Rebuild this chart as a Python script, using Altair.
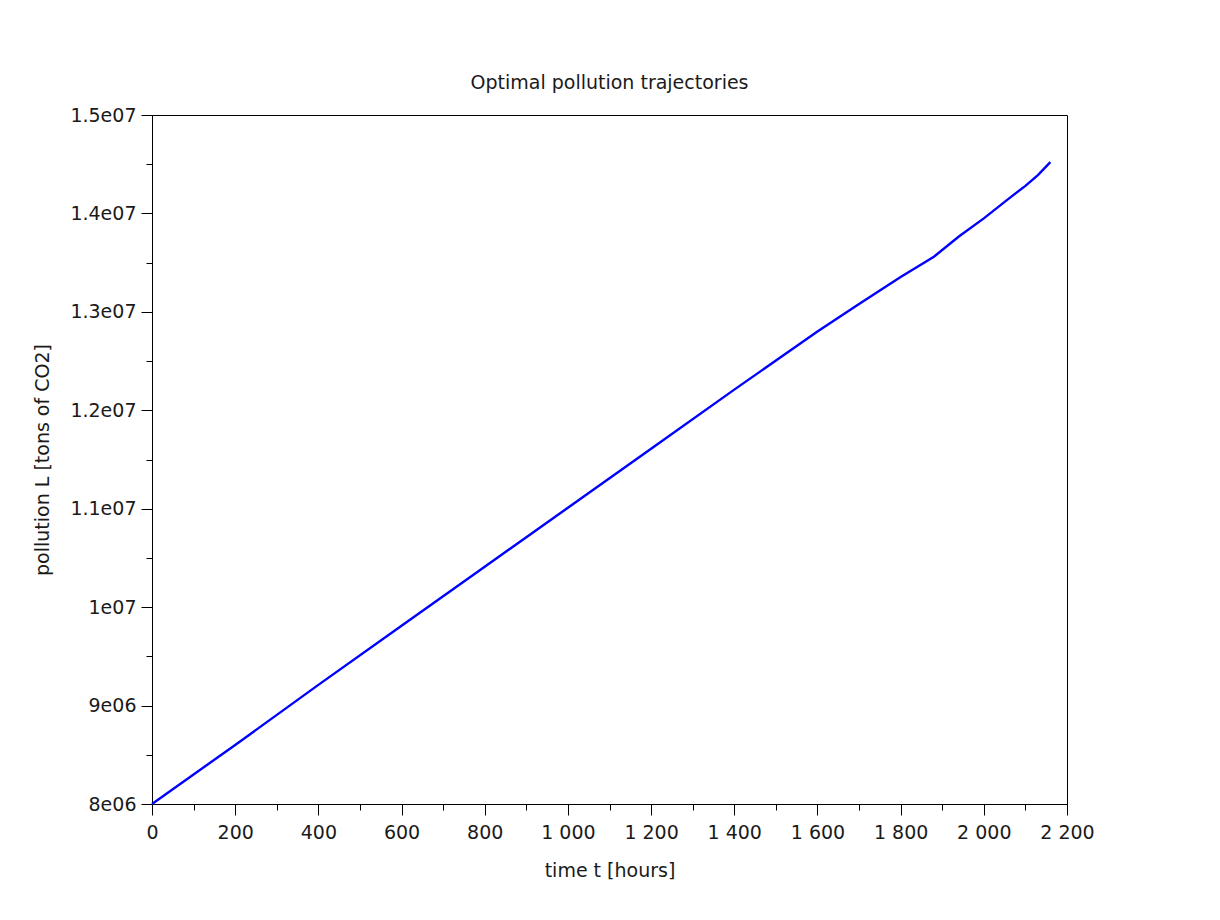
import altair as alt
import pandas as pd

# data
t_hours = [0, 200, 400, 600, 800, 1000, 1200, 1400, 1600, 1700, 1800, 1880,
           1940, 2000, 2060, 2100, 2130, 2160]
pollution = [8.0e6, 8.60e6, 9.21e6, 9.81e6, 1.041e7, 1.101e7, 1.161e7, 1.221e7,
             1.280e7, 1.308e7, 1.3354e7, 1.356e7, 1.3765e7, 1.395e7, 1.415e7,
             1.428e7, 1.439e7, 1.4522e7]

x_major = [0, 200, 400, 600, 800, 1000, 1200, 1400, 1600, 1800, 2000, 2200]
x_minor = [100, 300, 500, 700, 900, 1100, 1300, 1500, 1700, 1900, 2100]
y_major = [8e6, 9e6, 1e7, 1.1e7, 1.2e7, 1.3e7, 1.4e7, 1.5e7]
y_minor = [8.5e6, 9.5e6, 1.05e7, 1.15e7, 1.25e7, 1.35e7, 1.45e7]

df = pd.DataFrame({"t": t_hours, "L": pollution})

FONT = "DejaVu Sans"
TXT = "#1a1a1a"

xscale = alt.Scale(domain=[0, 2200], nice=False, zero=False)
yscale = alt.Scale(domain=[8e6, 1.5e7], nice=False, zero=False)

x_lab = "replace(format(datum.value, ','), ',', ' ')"
y_lab = ("datum.value >= 9999999 ? format(datum.value/1e7, '.2~f') + 'e07' : "
         "format(datum.value/1e6, '.2~f') + 'e06'")

main = alt.Chart(df).mark_line(color="#0000ff", strokeWidth=2.4).encode(
    x=alt.X("t:Q", scale=xscale,
            axis=alt.Axis(orient="bottom", values=x_major, labelExpr=x_lab,
                          tickSize=11, labelPadding=8, labelFlush=False,
                          title="time t [hours]", titlePadding=19, grid=False)),
    y=alt.Y("L:Q", scale=yscale,
            axis=alt.Axis(orient="left", values=y_major, labelExpr=y_lab,
                          tickSize=11, labelPadding=5, labelFlush=False,
                          title="pollution L [tons of CO2]",
                          titlePadding=17, grid=False)),
)

minor = alt.Chart(df).mark_line(opacity=0).encode(
    x=alt.X("t:Q", scale=xscale,
            axis=alt.Axis(orient="bottom", values=x_minor, labels=False,
                          domain=False, tickSize=6, title=None, grid=False)),
    y=alt.Y("L:Q", scale=yscale,
            axis=alt.Axis(orient="left", values=y_minor, labels=False,
                          domain=False, tickSize=6, title=None, grid=False)),
)

chart = alt.layer(main, minor).resolve_axis(x="independent", y="independent").properties(
    width=915,
    height=689,
    background="white",
    autosize=alt.AutoSizeParams(type="none"),
    padding={"left": 144, "top": 107, "right": 100, "bottom": 100},
    title=alt.TitleParams("Optimal pollution trajectories", font=FONT, fontSize=19,
                          fontWeight="normal", color=TXT, offset=13, anchor="middle"),
).configure_view(stroke="black", strokeWidth=1).configure_axis(
    domainColor="black", tickColor="black", domainWidth=1, tickWidth=1,
    labelFont=FONT, labelFontSize=19, labelColor=TXT,
    titleFont=FONT, titleFontSize=19, titleFontWeight="normal", titleColor=TXT,
)

chart.save("out.html", embed_options={"renderer": "svg", "actions": False})
